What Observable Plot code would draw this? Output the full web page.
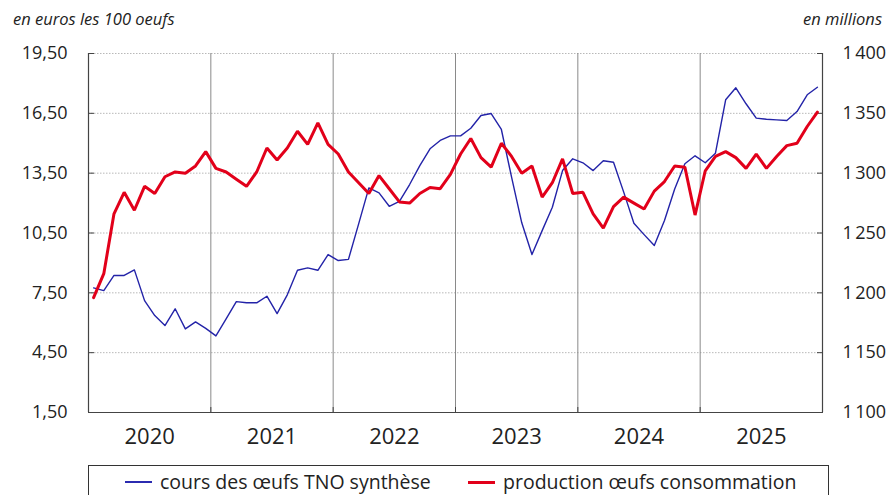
<!DOCTYPE html>
<html>
<head>
<meta charset="utf-8">
<script src="https://cdn.jsdelivr.net/npm/d3@7"></script>
<script src="https://cdn.jsdelivr.net/npm/@observablehq/plot@0.6"></script>
<style>
  html, body { margin: 0; padding: 0; background: #fff; }
  body { width: 890px; height: 495px; position: relative; overflow: hidden; font-family: "Open Sans", sans-serif; color: #222; }
  .unit { position: absolute; top: 7px; font-style: italic; font-size: 16.5px; line-height: 24px; color: #222; }
  #unitL { left: 13px; }
  #unitR { right: 8px; }
  #chart { position: absolute; left: 0; top: 38px; }
  #legend { position: absolute; left: 88px; top: 465px; width: 741px; height: 30px; border: 1px solid #333; border-bottom: none; box-sizing: border-box; font-size: 19.5px; }
  .item { position: absolute; top: 3px; display: flex; align-items: center; line-height: 26px; }
  .sw { display: inline-block; width: 27px; margin-right: 8px; }
</style>
</head>
<body>
<div class="unit" id="unitL">en euros les 100 oeufs</div>
<div class="unit" id="unitR">en millions</div>
<div id="chart"></div>
<div id="legend">
  <div class="item" style="left:36px"><span class="sw" style="border-top:2px solid #2b2bb0"></span><span>cours des œufs TNO synthèse</span></div>
  <div class="item" style="left:379px"><span class="sw" style="border-top:3px solid #e2001a"></span><span>production œufs consommation</span></div>
</div>
<script>
// Monthly series, Jan 2020 – Dec 2025
const years = ["2020", "2021", "2022", "2023", "2024", "2025"];

// cours des œufs TNO synthèse (euros / 100 oeufs), left axis
const prix = [
  7.75, 7.61, 8.37, 8.37, 8.65, 7.11, 6.36, 5.86, 6.70, 5.69, 6.04, 5.72,
  5.34, 6.19, 7.06, 7.00, 7.00, 7.33, 6.46, 7.40, 8.63, 8.75, 8.63, 9.42,
  9.12, 9.18, 10.96, 12.76, 12.51, 11.84, 12.09, 12.93, 13.88, 14.72, 15.14, 15.37,
  15.37, 15.75, 16.39, 16.49, 15.69, 13.30, 11.01, 9.42, 10.62, 11.79, 13.63, 14.22,
  14.02, 13.63, 14.12, 14.05, 12.55, 10.99, 10.42, 9.87, 11.13, 12.71, 13.97, 14.37,
  14.02, 14.50, 17.18, 17.78, 16.98, 16.26, 16.20, 16.17, 16.14, 16.59, 17.43, 17.81
];

// production œufs consommation (millions), right axis
const production = [
  1196, 1216, 1266, 1284, 1269, 1289, 1283, 1297, 1301, 1300, 1306, 1318,
  1304, 1301, 1295, 1289, 1301, 1321, 1311, 1321, 1335, 1324, 1342, 1324,
  1316, 1301, 1292, 1283, 1298, 1287, 1276, 1275, 1283, 1288, 1287, 1299,
  1316, 1329, 1313, 1305, 1325, 1314, 1300, 1306, 1280, 1292, 1312, 1283,
  1284, 1266, 1254, 1272, 1280, 1275, 1270, 1285, 1293, 1306, 1305, 1265,
  1302, 1314, 1318, 1313, 1304, 1316, 1304, 1314, 1323, 1325, 1339, 1351
];

const leftTicks = [1.5, 4.5, 7.5, 10.5, 13.5, 16.5, 19.5];
const rightTicks = [1100, 1150, 1200, 1250, 1300, 1350, 1400];
const rightDomain = [1100, 1400];
const leftDomain = [1.5, 19.5];

// map right-axis values onto the left scale
const toLeft = v => leftDomain[0] + (v - rightDomain[0]) / (rightDomain[1] - rightDomain[0]) * (leftDomain[1] - leftDomain[0]);

const prixData = prix.map((v, i) => ({m: i + 0.5, v}));
const prodData = production.map((v, i) => ({m: i + 0.5, v: toLeft(v)}));
const yearBounds = d3.range(1, years.length).map(k => k * 12);
const yearCenters = years.map((_, k) => k * 12 + 6);

const frNum = d3.formatLocale({decimal: ",", thousands: "\u202F", grouping: [3], currency: ["", "€"]});
const fmtL = frNum.format(".2f");
const fmtR = frNum.format(",d");

const chart = Plot.plot({
  width: 890,
  height: 418,
  marginLeft: 88,
  marginRight: 68,
  marginTop: 15,
  marginBottom: 44,
  x: {domain: [0, years.length * 12], label: null},
  y: {domain: leftDomain, label: null},
  style: {fontFamily: "Open Sans, sans-serif", fontSize: "18px", color: "#222", background: "white", overflow: "visible"},
  marks: [
    Plot.gridY(leftTicks, {stroke: "#b8b8b8", strokeOpacity: 1, strokeDasharray: "1.5,1.5"}),
    Plot.ruleX(yearBounds, {stroke: "#8a8a8a", strokeWidth: 1}),
    Plot.ruleX([0, years.length * 12], {stroke: "#444", strokeWidth: 1.2}),
    Plot.ruleY([leftDomain[0]], {stroke: "#444", strokeWidth: 1.2}),
    Plot.axisY(leftTicks, {anchor: "left", label: null, tickSize: -6, tickPadding: 27, tickFormat: fmtL, stroke: "#444", fontSize: 18}),
    Plot.axisY(rightTicks.map(toLeft), {anchor: "right", label: null, tickSize: -6, tickPadding: 26, tickFormat: (d, k) => fmtR(rightTicks[k]), stroke: "#444", fontSize: 18}),
    Plot.axisX(yearBounds, {anchor: "bottom", label: null, tickSize: -5, tickFormat: () => "", stroke: "#444"}),
    Plot.axisX(yearCenters, {anchor: "bottom", label: null, tickSize: 0, tickPadding: 16, tickFormat: (d, k) => years[k], fontSize: 22}),
    Plot.line(prixData, {x: "m", y: "v", stroke: "#2323a8", strokeWidth: 1.4}),
    Plot.line(prodData, {x: "m", y: "v", stroke: "#e2001a", strokeWidth: 3, strokeLinejoin: "miter"})
  ]
});
document.getElementById("chart").appendChild(chart);
</script>
</body>
</html>
